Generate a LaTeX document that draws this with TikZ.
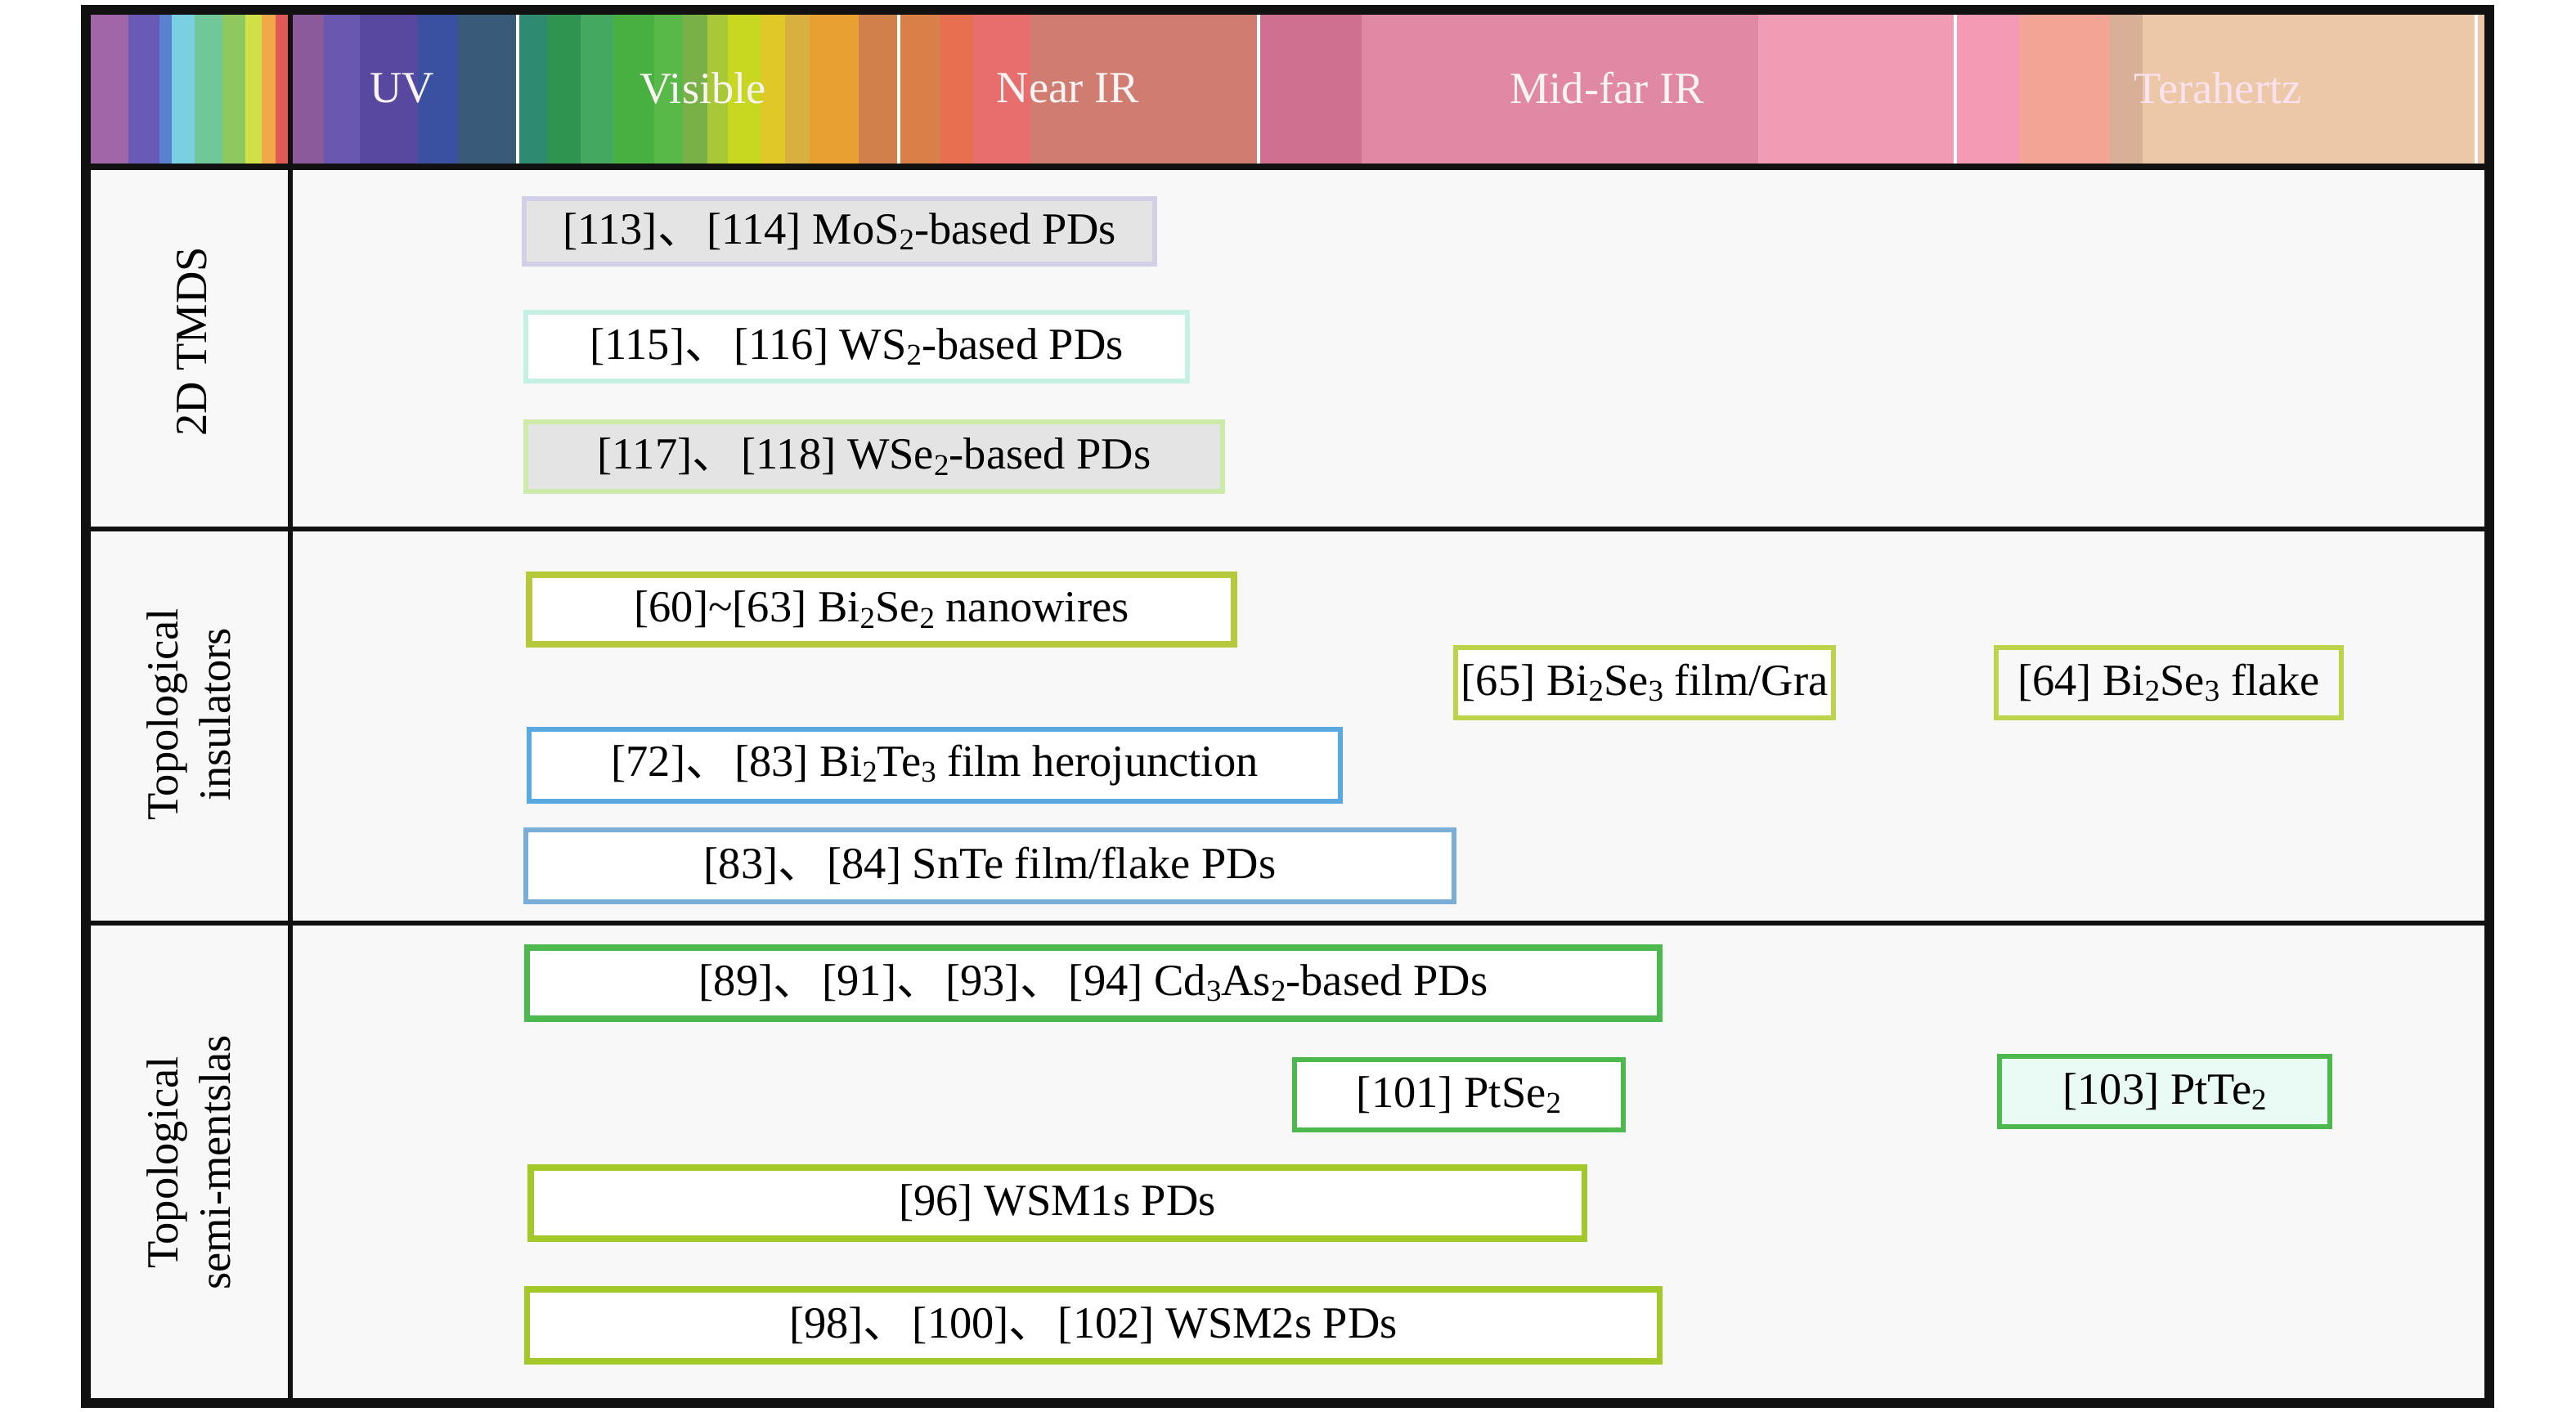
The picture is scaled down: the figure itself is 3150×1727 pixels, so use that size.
\documentclass[tikz,border=0pt]{standalone}
\usepackage{fontspec}
\setmainfont{Liberation Serif}
\newfontfamily\cjkfont{Noto Sans CJK SC}
\newcommand{\dunhao}{{\cjkfont 、}\hspace{0.1em}}
\newcommand{\subtwo}[1]{\raisebox{-0.3ex}{\fontsize{10.5}{12}\selectfont #1}}
\definecolor{bgin}{HTML}{F8F8F8}
\definecolor{frameblack}{HTML}{111111}
\definecolor{lavb}{HTML}{D2D0E6}
\definecolor{grayf}{HTML}{E4E4E4}
\definecolor{aquab}{HTML}{C4F2E2}
\definecolor{lgreenb}{HTML}{CDEAA8}
\definecolor{oliveb}{HTML}{B5C93A}
\definecolor{ygreenb}{HTML}{BCD44A}
\definecolor{blueA}{HTML}{5AA8E0}
\definecolor{blueB}{HTML}{78AED8}
\definecolor{greenb}{HTML}{4DB84D}
\definecolor{limeb}{HTML}{A2C82A}
\definecolor{mintf}{HTML}{EAFBF6}
\definecolor{hdrtext}{HTML}{FAF4F4}
\begin{document}
\begin{tikzpicture}[x=0.01cm,y=-0.01cm,
  txt/.style={font=\fontsize{15.5}{18}\selectfont},
  pd/.style={draw=#1, line width=1.7pt, fill=white, inner sep=0pt, txt, text=black},
  thick box/.style={line width=2.2pt},
  hdr/.style={txt, text=hdrtext},
  rowlab/.style={txt, rotate=90, align=center, text=black}]
\useasboundingbox (0,0) rectangle (3150,1727);
\fill[white] (0,0) rectangle (3150,1727);
\fill[bgin] (105,12) rectangle (3044,1716);
% spectrum stripes
\foreach \a/\b/\c in {
  109/157/A066A8, 157/195/6A5AB8, 195/210/5A80D0, 210/238/78D0E0, 238/272/70C898,
  272/300/90C860, 300/320/D0E048, 320/337/F0A848, 337/355/E05858,
  355/396/8A5A9A, 396/440/6A58B0, 440/511/5848A0, 511/560/3A50A0, 560/633/3A5A7A,
  633/670/2E8A70, 670/710/2E9450, 710/750/45A860, 750/800/48B040, 800/835/58B848,
  835/865/7AB048, 865/890/A8C838, 890/930/C8D820, 930/960/E0C828, 960/990/D8B040,
  990/1050/E8A030, 1050/1099/D08048,
  1099/1150/D88048, 1150/1190/E87050, 1190/1260/E86E6E, 1260/1539/D07C70,
  1539/1665/D07090, 1665/2150/E088A4, 2150/2391/F09CB4,
  2391/2470/F49AB4, 2470/2580/F4A494, 2580/2620/D8B098, 2620/3038/ECC8A8}
  {\definecolor{tmp}{HTML}{\c}\fill[tmp] (\a,17) rectangle (\b,202);}
\foreach \xs in {633,1099,1539,2391,3028}
  \draw[white, line width=1.2pt] (\xs,17) -- (\xs,200);
% frame and grid
\fill[frameblack] (100,6) rectangle (3050,18);
\draw[frameblack, line width=2.2pt] (105,204) -- (3044,204);
\draw[frameblack, line width=1.5pt] (355,12) -- (355,1716);
\draw[frameblack, line width=1.5pt] (105,647) -- (3044,647);
\draw[frameblack, line width=1.5pt] (105,1129) -- (3044,1129);
\draw[frameblack, line width=3.4pt] (105,12) rectangle (3044,1716);
% header labels
\node[hdr] (uv) at (492,108) {UV};
\node[hdr] (vis) at (860,108) {Visible};
\node[hdr] (nir) at (1306,108) {Near IR};
\node[hdr] (mir) at (1965,108) {Mid-far IR};
\node[hdr, text={rgb,255:red,250;green,226;blue,238}] (thz) at (2712,108) {Terahertz};
% row labels
\node[rowlab] (tmds) at (235,418) {2D TMDS};
\node[rowlab] (ti) at (231,874) {Topological\\insulators};
\node[rowlab] (tsm) at (231,1422) {Topological\\semi-mentslas};
% 2D TMDS
\node[pd=lavb, fill=grayf, minimum width=7.71cm, minimum height=0.80cm] (mos) at (1026.5,283) {[113]\dunhao[114] MoS\subtwo{2}-based PDs};
\node[pd=aquab, fill=white, minimum width=8.09cm, minimum height=0.84cm] (ws) at (1047.5,424) {[115]\dunhao[116] WS\subtwo{2}-based PDs};
\node[pd=lgreenb, fill=grayf, minimum width=8.52cm, minimum height=0.85cm] (wse) at (1069,558.5) {[117]\dunhao[118] WSe\subtwo{2}-based PDs};
% topological insulators
\node[pd=oliveb, thick box, minimum width=8.62cm, minimum height=0.85cm] (nw) at (1078,745.5) {[60]\textasciitilde[63] Bi\subtwo{2}Se\subtwo{2} nanowires};
\node[pd=ygreenb, minimum width=4.62cm, minimum height=0.86cm] (gra) at (2011,835) {[65] Bi\subtwo{2}Se\subtwo{3} film/Gra};
\node[pd=ygreenb, fill=bgin, minimum width=4.22cm, minimum height=0.86cm] (flake) at (2652,835) {[64] Bi\subtwo{2}Se\subtwo{3} flake};
\node[pd=blueA, minimum width=9.92cm, minimum height=0.88cm] (bite) at (1143,936) {[72]\dunhao[83] Bi\subtwo{2}Te\subtwo{3} film herojunction};
\node[pd=blueB, minimum width=11.35cm, minimum height=0.88cm] (snte) at (1210.5,1059) {[83]\dunhao[84] SnTe film/flake PDs};
% topological semimetals
\node[pd=greenb, thick box, minimum width=13.84cm, minimum height=0.87cm] (cdas) at (1337,1202.5) {[89]\dunhao[91]\dunhao[93]\dunhao[94] Cd\subtwo{3}As\subtwo{2}-based PDs};
\node[pd=greenb, minimum width=4.02cm, minimum height=0.86cm] (ptse) at (1784,1339) {[101] PtSe\subtwo{2}};
\node[pd=greenb, fill=mintf, minimum width=4.04cm, minimum height=0.86cm] (ptte) at (2647,1335) {[103] PtTe\subtwo{2}};
\node[pd=limeb, thick box, minimum width=12.88cm, minimum height=0.87cm] (wsm1) at (1293,1471.5) {[96] WSM1s PDs};
\node[pd=limeb, thick box, minimum width=13.84cm, minimum height=0.88cm] (wsm2) at (1337,1621) {[98]\dunhao[100]\dunhao[102] WSM2s PDs};
\end{tikzpicture}
\end{document}
